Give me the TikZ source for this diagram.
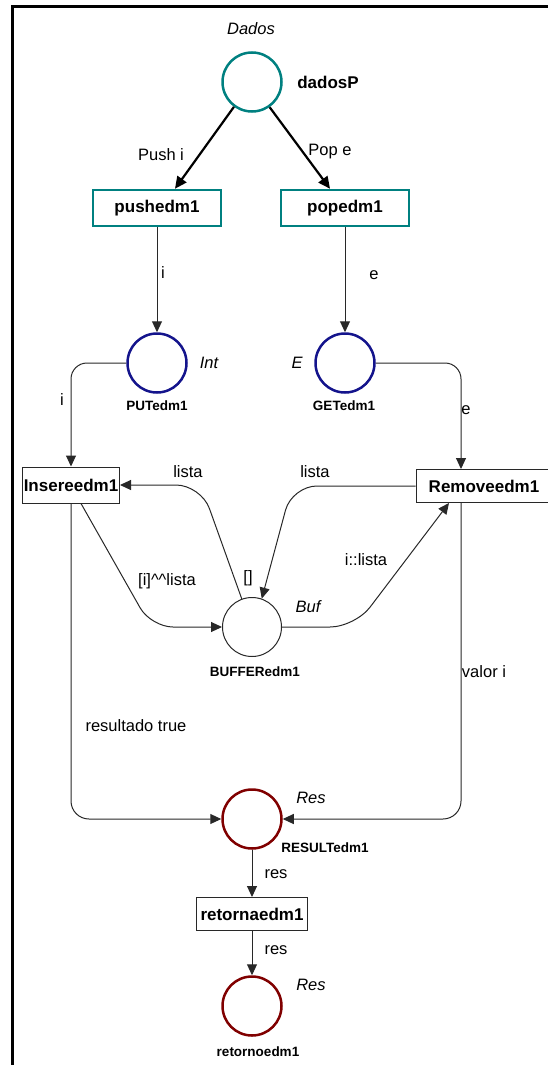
\documentclass[tikz,border=0pt]{standalone}
\usepackage{fontspec}
\setmainfont{Liberation Sans}
\usepackage{tikz}
\usetikzlibrary{arrows.meta}
\definecolor{tealring}{RGB}{0,128,128}
\definecolor{navyring}{RGB}{20,20,140}
\definecolor{redring}{RGB}{128,0,0}
\definecolor{wire}{RGB}{40,40,40}

\begin{document}
\begin{tikzpicture}[x=1pt, y=-1pt,
    place/.style={circle, draw=wire, line width=1pt, minimum size=59pt, inner sep=0pt},
    trans/.style={rectangle, draw=wire, line width=1pt, inner sep=0pt, minimum height=34pt, font=\fontsize{17}{20}\selectfont\bfseries},
    pname/.style={inner sep=0pt, font=\fontsize{13.5}{16}\selectfont\bfseries},
    ptype/.style={inner sep=0pt, font=\fontsize{16.5}{20}\selectfont\itshape},
    lbl/.style={inner sep=0pt, font=\fontsize{16.5}{20}\selectfont},
    arc/.style={draw=wire, line width=1pt, -{Triangle[length=11pt,width=10pt]}},
    fatarc/.style={draw=black, line width=2.2pt, -{Triangle[length=12pt,width=11pt]}}]

    \useasboundingbox (0,0) rectangle (548,1065);
    \draw[line width=3pt] (12,1066) -- (12,7) -- (549,7);

    \node[place, draw=tealring, line width=2.5pt] (dadosP) at (252,82) {};
    \node[ptype] (dadosT) at (251,29) {Dados};
    \node[pname, font=\fontsize{17}{20}\selectfont\bfseries] (dadosN) at (328,82) {dadosP};

    \node[trans, draw=tealring, line width=2.5pt, minimum width=128pt, minimum height=36pt] (pushedm1) at (157,208) {pushedm1};
    \node[trans, draw=tealring, line width=2.5pt, minimum width=128pt, minimum height=36pt] (popedm1) at (345,208) {popedm1};

    \draw[fatarc] (dadosP.234) -- ([xshift=18pt]pushedm1.north);
    \draw[fatarc] (dadosP.305) -- ([xshift=-15pt]popedm1.north);
    \node[lbl] (lblPush) at (161,155) {Push i};
    \node[lbl] (lblPop) at (330,152) {Pop e};

    \node[place, draw=navyring, line width=2.5pt] (PUTedm1) at (157,363) {};
    \node[ptype] (putT) at (209,363) {Int};
    \node[pname] (putN) at (157,406) {PUTedm1};
    \node[place, draw=navyring, line width=2.5pt] (GETedm1) at (345,363) {};
    \node[ptype] (getT) at (297,363) {E};
    \node[pname] (getN) at (344,406) {GETedm1};

    \draw[arc] (pushedm1.south) -- (PUTedm1.north);
    \draw[arc] (popedm1.south) -- (GETedm1.north);
    \node[lbl] (lblI) at (163,273) {i};
    \node[lbl] (lblE) at (374,275) {e};

    \node[trans, minimum width=97pt, minimum height=36pt] (Insereedm1) at (71,485) {Insereedm1};
    \node[trans, minimum width=136pt, minimum height=33pt] (Removeedm1) at (484,486) {Removeedm1};

    \draw[arc, rounded corners=16pt] (PUTedm1.west) -| (Insereedm1.north);
    \draw[arc, rounded corners=16pt] (GETedm1.east) -| ([xshift=-23pt]Removeedm1.north);
    \node[lbl] (lblIns) at (62,400) {i};
    \node[lbl] (lblRem) at (466,410) {e};

    \node[place] (BUFFERedm1) at (252,627) {};
    \node[ptype] (bufT) at (308,607) {Buf};
    \node[pname] (bufN) at (255,672) {BUFFERedm1};
    \node[lbl] (bufM) at (248,578) {[]};

    \draw[arc, rounded corners=22pt] ([xshift=10pt]Insereedm1.south) -- (151,627) -- (BUFFERedm1.west);
    \draw[arc, rounded corners=25pt] (BUFFERedm1.110) -- (201,485) -- (Insereedm1.east);
    \draw[arc, rounded corners=25pt] (Removeedm1.west) -- (292,486) -- (BUFFERedm1.71);
    \draw[arc, rounded corners=25pt] (BUFFERedm1.east) -- (355,627) -- ([xshift=-35pt]Removeedm1.south);
    \node[lbl] (lblCat) at (167,581) {[i]\textasciicircum\textasciicircum lista};
    \node[lbl] (lblL1) at (188,472) {lista};
    \node[lbl] (lblL2) at (315,472) {lista};
    \node[lbl] (lblCons) at (366,560) {i::lista};

    \node[place, draw=redring, line width=2.5pt] (RESULTedm1) at (252,819) {};
    \node[ptype] (resT) at (311,798) {Res};
    \node[pname] (resN) at (325,848) {RESULTedm1};

    \draw[arc, rounded corners=18pt] (Insereedm1.south) |- (RESULTedm1.west);
    \draw[arc, rounded corners=18pt] ([xshift=-23pt]Removeedm1.south) |- (RESULTedm1.east);
    \node[lbl] (lblTrue) at (136,726) {resultado true};
    \node[lbl] (lblVal) at (484,672) {valor i};

    \node[trans, minimum width=111pt, minimum height=33pt] (retornaedm1) at (252,914) {retornaedm1};
    \node[place, draw=redring, line width=2.5pt] (retornoedm1) at (252,1006) {};
    \node[ptype] (retT) at (311,985) {Res};
    \node[pname] (retN) at (258,1052) {retornoedm1};

    \draw[arc] (RESULTedm1.south) -- (retornaedm1.north);
    \draw[arc] (retornaedm1.south) -- (retornoedm1.north);
    \node[lbl] (lblRes1) at (276,874) {res};
    \node[lbl] (lblRes2) at (276,950) {res};

\end{tikzpicture}
\end{document}
